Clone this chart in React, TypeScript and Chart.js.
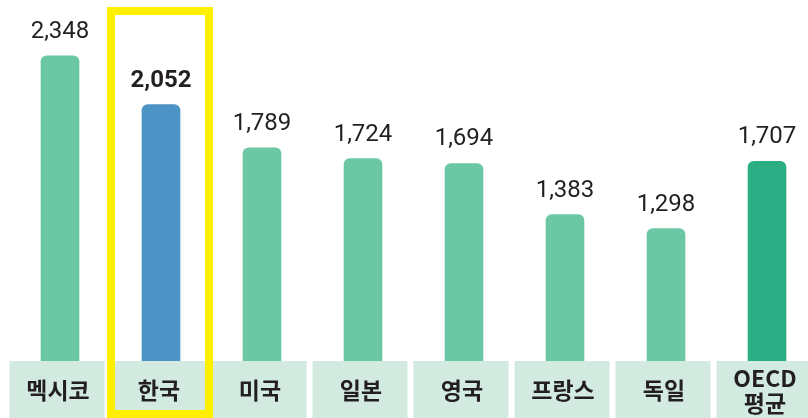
import React, { useEffect, useRef } from "react";
import { Chart, registerables } from "chart.js";

Chart.register(...registerables);

const categories: string[][] = [["멕시코"], ["한국"], ["미국"], ["일본"], ["영국"], ["프랑스"], ["독일"], ["OECD", "평균"]];
const hours: number[] = [2348, 2052, 1789, 1724, 1694, 1383, 1298, 1707];
const valueLabels: string[] = ["2,348", "2,052", "1,789", "1,724", "1,694", "1,383", "1,298", "1,707"];
const highlightIndex = 1;
const oecdIndex = 7;

const GREEN = "#6cc7a4";
const BLUE = "#4b94c5";
const DARK_GREEN = "#2bae84";
const BOX = "#d3eae0";
const YELLOW = "#fff000";
const TEXT = "#231f20";

const decorPlugin = {
  id: "decor",
  afterDatasetsDraw(chart: any) {
    const ctx = chart.ctx;
    const meta = chart.getDatasetMeta(0);
    const xScale = chart.scales.x;
    const area = chart.chartArea;
    ctx.save();
    // value labels
    meta.data.forEach((bar: any, i: number) => {
      ctx.font = (i === highlightIndex ? "bold " : "") + "24px Roboto, 'Noto Sans', sans-serif";
      ctx.fillStyle = TEXT;
      ctx.textAlign = "center";
      ctx.textBaseline = "alphabetic";
      ctx.fillText(valueLabels[i], bar.x, bar.y - 18);
    });
    // category boxes
    categories.forEach((lines, i) => {
      const cx = xScale.getPixelForValue(i);
      const left = cx - 50.5;
      ctx.fillStyle = BOX;
      ctx.fillRect(left, area.bottom, 95, chart.height - area.bottom);
      ctx.fillStyle = TEXT;
      ctx.font = "bold 23px 'Noto Sans CJK KR', sans-serif";
      ctx.textAlign = "center";
      ctx.textBaseline = "middle";
      const mid = area.bottom + (chart.height - area.bottom) / 2;
      const lh = 25;
      lines.forEach((t, j) => {
        const y = mid + (j - (lines.length - 1) / 2) * lh;
        ctx.fillText(t, cx - 2, y + 1);
      });
    });
    // highlight rectangle
    const hx = xScale.getPixelForValue(highlightIndex);
    ctx.strokeStyle = YELLOW;
    ctx.lineWidth = 8;
    ctx.strokeRect(hx - 50, 11, 98, 403);
    ctx.restore();
  },
};

export default function App() {
  const ref = useRef<HTMLCanvasElement>(null);
  useEffect(() => {
    if (!ref.current) return;
    const colors = hours.map((_, i) => (i === highlightIndex ? BLUE : i === oecdIndex ? DARK_GREEN : GREEN));
    const chart = new Chart(ref.current, {
      type: "bar",
      data: {
        labels: categories.map((c) => c.join(" ")),
        datasets: [
          {
            data: hours,
            backgroundColor: colors,
            barThickness: 38,
            borderRadius: 6,
            borderSkipped: "start",
          },
        ],
      },
      options: {
        responsive: false,
        animation: false,
        layout: { padding: { left: 9.5, right: 0.5, top: 14, bottom: 57 } },
        plugins: { legend: { display: false }, tooltip: { enabled: false } },
        scales: {
          x: { display: false, offset: true },
          y: { display: false, min: 494, max: 2602 },
        },
      },
      plugins: [decorPlugin],
    });
    return () => chart.destroy();
  }, []);
  return (
    <div style={{ position: "absolute", left: 0, top: 0, width: 808, height: 418, overflow: "hidden", background: "#fff" }}>
      <canvas ref={ref} width={818} height={418} style={{ display: "block" }} />
    </div>
  );
}
